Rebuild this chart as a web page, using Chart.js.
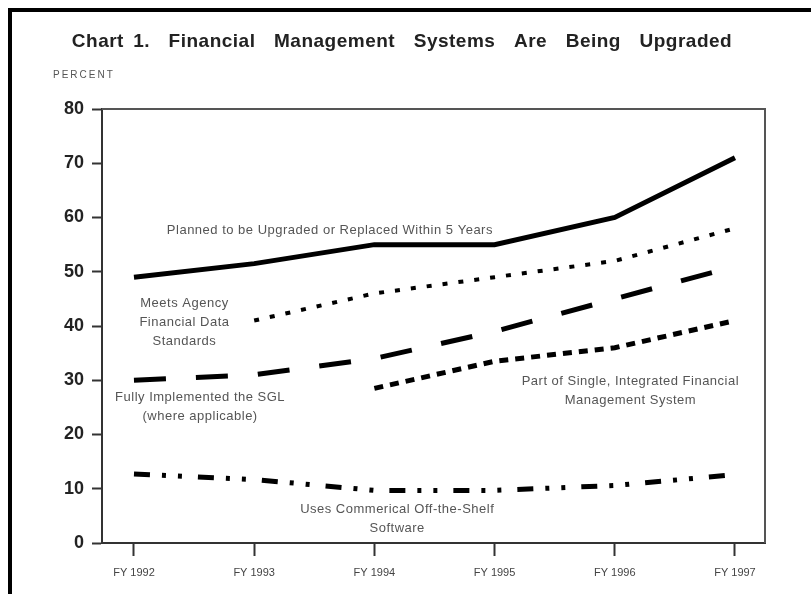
<!DOCTYPE html>
<html>
<head>
<meta charset="utf-8">
<title>Chart 1. Financial Management Systems Are Being Upgraded</title>
<script src="https://cdn.jsdelivr.net/npm/chart.js@4.4.1/dist/chart.umd.min.js"></script>
<style>
    html, body { margin: 0; padding: 0; background: #fff; }
    canvas { display: block; }
</style>
</head>
<body>
<canvas id="upgrade-chart" width="811" height="594"></canvas>
<script>
// Chart data
const fiscalYears = [1992, 1993, 1994, 1995, 1996, 1997];
const yearLabels = ['FY 1992', 'FY 1993', 'FY 1994', 'FY 1995', 'FY 1996', 'FY 1997'];
const percentTicks = [0, 10, 20, 30, 40, 50, 60, 70, 80];

const plannedUpgrade = [49, 51.5, 55, 55, 60, 71];
const meetsStandards = [null, 41, 46, 49, 52, 58];
const sglImplemented = [30, 31, 34, 39, 45, 51];
const singleIntegrated = [null, null, 28.5, 33.5, 36, 41];
const cotsSoftware = [12.7, 11.7, 9.7, 9.7, 10.6, 12.6];

// Line labels, anchored in data units
const notes = [
    { lines: ['Planned to be Upgraded or Replaced Within 5 Years'], x: 1993.63, y: 57.7 },
    { lines: ['Meets Agency', 'Financial Data', 'Standards'], x: 1992.42, y: 44.2 },
    { lines: ['Fully Implemented the SGL', '(where applicable)'], x: 1992.55, y: 26.9 },
    { lines: ['Part of Single, Integrated Financial', 'Management System'], x: 1996.13, y: 29.7 },
    { lines: ['Uses Commerical Off-the-Shelf', 'Software'], x: 1994.19, y: 6.1 }
];

const chartCanvas = document.querySelector('#upgrade-chart');

function toPoints(values) {
    return fiscalYears.map((yr, i) => ({ x: yr, y: values[i] }));
}

function lineSet(label, values, dash, width) {
    return {
        label: label,
        data: toPoints(values),
        borderColor: '#000',
        borderWidth: width,
        borderDash: dash,
        borderCapStyle: 'butt',
        pointRadius: 0,
        tension: 0,
        fill: false
    };
}

const upgradeData = {
    datasets: [
        lineSet('Planned to be Upgraded or Replaced Within 5 Years', plannedUpgrade, [], 5),
        lineSet('Meets Agency Financial Data Standards', meetsStandards, [5, 11], 4),
        lineSet('Fully Implemented the SGL', sglImplemented, [32, 30], 5),
        lineSet('Part of Single, Integrated Financial Management System', singleIntegrated, [9, 7], 5),
        lineSet('Uses Commerical Off-the-Shelf Software', cotsSoftware, [16, 12, 4, 12, 4, 16], 5)
    ]
};

const framePlugin = {
    id: 'frame',
    beforeDraw(chart) {
        const ctx = chart.ctx;
        ctx.save();
        ctx.fillStyle = '#fff';
        ctx.fillRect(0, 0, chart.width, chart.height);
        ctx.restore();
    },
    afterDraw(chart) {
        const ctx = chart.ctx;
        const area = chart.chartArea;
        const xs = chart.scales.x;
        const ys = chart.scales.y;
        ctx.save();

        // top and right edges of the plot box
        ctx.strokeStyle = '#555';
        ctx.lineWidth = 2;
        ctx.beginPath();
        ctx.moveTo(area.left, area.top);
        ctx.lineTo(area.right, area.top);
        ctx.lineTo(area.right, area.bottom);
        ctx.stroke();

        // black page frame
        ctx.fillStyle = '#000';
        ctx.fillRect(8, 8, chart.width - 8, 4);
        ctx.fillRect(8, 8, 4, chart.height - 8);

        // title
        ctx.fillStyle = '#222';
        ctx.font = 'bold 19px "Liberation Sans", Arial, sans-serif';
        ctx.letterSpacing = '0.5px';
        ctx.wordSpacing = '3.5px';
        ctx.textAlign = 'center';
        ctx.textBaseline = 'middle';
        ctx.fillText('Chart 1.  Financial  Management  Systems  Are  Being  Upgraded', 402, 42);
        ctx.wordSpacing = '0px';

        // unit label
        ctx.fillStyle = '#555';
        ctx.font = '10px "Liberation Sans", Arial, sans-serif';
        ctx.letterSpacing = '2px';
        ctx.textAlign = 'left';
        ctx.fillText('PERCENT', 53, 75);

        // line labels
        ctx.fillStyle = '#555';
        ctx.font = '13px "Liberation Sans", Arial, sans-serif';
        ctx.letterSpacing = '0.5px';
        ctx.textAlign = 'center';
        notes.forEach(n => {
            const px = xs.getPixelForValue(n.x);
            const py = ys.getPixelForValue(n.y);
            n.lines.forEach((t, i) => ctx.fillText(t, px, py + i * 19));
        });
        ctx.restore();
    }
};

const upgradeOptions = {
    responsive: false,
    animation: false,
    devicePixelRatio: 1,
    layout: {
        padding: { top: 109, right: 46, left: 0, bottom: 0 }
    },
    scales: {
        x: {
            type: 'linear',
            min: 1991.734,
            max: 1997.25,
            afterFit: s => { s.height = 51; },
            afterBuildTicks: s => { s.ticks = fiscalYears.map(v => ({ value: v })); },
            grid: {
                drawOnChartArea: false,
                drawTicks: true,
                tickLength: 13,
                tickColor: '#333',
                tickWidth: 2
            },
            border: { display: true, color: '#333', width: 2 },
            ticks: {
                padding: 10,
                color: '#444',
                maxRotation: 0,
                font: { family: '"Liberation Sans", Arial, sans-serif', size: 11 },
                callback: v => yearLabels[fiscalYears.indexOf(v)]
            }
        },
        y: {
            min: 0,
            max: 80,
            afterFit: s => { s.width = 102; },
            afterBuildTicks: s => { s.ticks = percentTicks.map(v => ({ value: v })); },
            grid: {
                drawOnChartArea: false,
                drawTicks: true,
                tickLength: 10,
                tickColor: '#333',
                tickWidth: 2
            },
            border: { display: true, color: '#333', width: 2 },
            ticks: {
                padding: 8,
                color: '#222',
                font: { family: '"Liberation Sans", Arial, sans-serif', size: 18, weight: 'bold' }
            }
        }
    },
    plugins: {
        legend: { display: false },
        tooltip: { enabled: false },
        title: { display: false }
    }
};

new Chart(chartCanvas, {
    type: 'line',
    data: upgradeData,
    options: upgradeOptions,
    plugins: [framePlugin]
});
</script>
</body>
</html>
